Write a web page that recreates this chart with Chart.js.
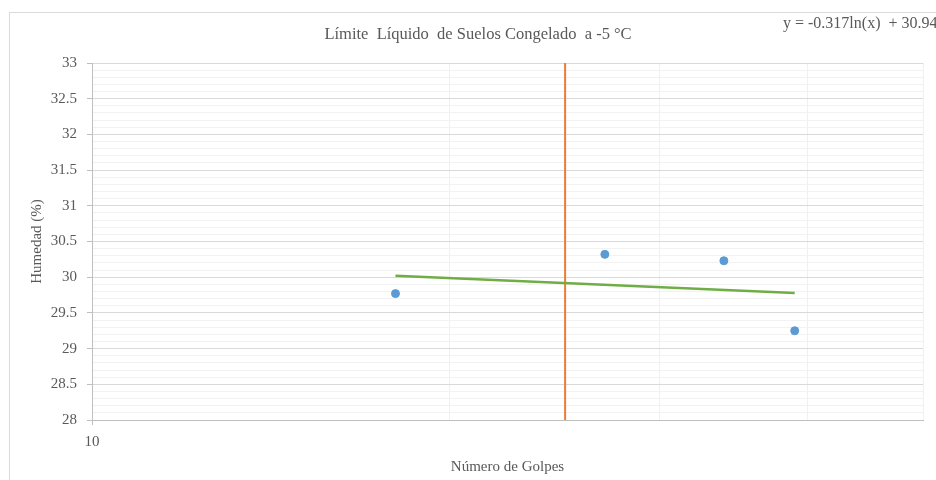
<!DOCTYPE html>
<html>
<head>
<meta charset="utf-8">
<script src="https://cdn.jsdelivr.net/npm/chart.js@4.4.1/dist/chart.umd.min.js"></script>
<style>
  html, body { margin: 0; padding: 0; background: #fff; }
  canvas { display: block; }
</style>
</head>
<body>
<canvas id="chart" width="936" height="480"></canvas>
<script>
// valores
const golpes = [18, 27, 34, 39];
const humedad = [29.77, 30.32, 30.23, 29.25];

// extremos de la línea de tendencia (log)
const trendX = [18, 39];
const trendY = [30.02, 29.78];

// línea vertical de 25 golpes
const limiteX = [25, 25];
const limiteY = [28, 33];

const xTicks = [10, 20, 30, 40, 50];
const xLabels = ['10', '', '', '', ''];
const yMin = 28, yMax = 33;

const titulo = 'Límite  Líquido  de Suelos Congelado  a -5 °C';
const ecuacion = 'y = -0.317ln(x)  + 30.943';

const serif = "'Liberation Serif', 'Times New Roman', serif";
const gris = '#595959';

const decorPlugin = {
    id: 'decorPlugin',
    beforeDraw(chart) {
        const ctx = chart.ctx;
        ctx.save();
        ctx.fillStyle = '#fff';
        ctx.fillRect(0, 0, chart.width, chart.height);
        ctx.strokeStyle = '#d9d9d9';
        ctx.lineWidth = 1;
        ctx.strokeRect(9.5, 12.5, chart.width + 10, chart.height + 10);
        ctx.restore();
    },
    afterDraw(chart) {
        const ctx = chart.ctx;
        ctx.save();
        ctx.fillStyle = gris;
        ctx.textBaseline = 'middle';
        ctx.font = '16.5px ' + serif;
        ctx.textAlign = 'center';
        ctx.fillText(titulo, 478, 35);
        ctx.font = '16px ' + serif;
        ctx.textAlign = 'left';
        ctx.fillText(ecuacion, 783, 24);
        ctx.restore();
    }
};

const isMajor = v => Math.abs(v * 2 - Math.round(v * 2)) < 1e-6;

new Chart(document.getElementById('chart'), {
    type: 'scatter',
    data: {
        datasets: [
            {
                label: 'Humedad',
                data: golpes.map((g, i) => ({x: g, y: humedad[i]})),
                backgroundColor: '#5b9bd5',
                borderColor: '#5b9bd5',
                pointRadius: 4,
                showLine: false
            },
            {
                label: 'Tendencia',
                data: trendX.map((g, i) => ({x: g, y: trendY[i]})),
                borderColor: '#70ad47',
                borderWidth: 2.5,
                pointRadius: 0,
                showLine: true
            },
            {
                label: '25 golpes',
                data: limiteX.map((g, i) => ({x: g, y: limiteY[i]})),
                borderColor: '#ed7d31',
                borderWidth: 2,
                pointRadius: 0,
                showLine: true
            }
        ]
    },
    options: {
        responsive: false,
        animation: false,
        layout: { padding: { left: 10, right: 13, top: 63, bottom: 0 } },
        plugins: {
            legend: { display: false },
            tooltip: { enabled: false }
        },
        scales: {
            x: {
                type: 'logarithmic',
                min: 10,
                max: 50,
                afterBuildTicks(axis) {
                    axis.ticks = xTicks.map(v => ({value: v}));
                },
                afterFit(axis) { axis.height = 60; },
                ticks: {
                    autoSkip: false,
                    maxRotation: 0,
                    padding: 8,
                    color: gris,
                    font: { family: serif, size: 15 },
                    callback: (v) => xLabels[xTicks.indexOf(v)] ?? ''
                },
                grid: {
                    color: '#f0f0f0',
                    tickLength: 5,
                    tickColor: (c) => c.tick && c.tick.value === 10 ? '#bfbfbf' : 'rgba(0,0,0,0)'
                },
                border: { display: true, color: '#bfbfbf' },
                title: {
                    display: true,
                    text: 'Número de Golpes',
                    color: gris,
                    font: { family: serif, size: 15 },
                    padding: { top: 4, bottom: 4 }
                }
            },
            y: {
                min: yMin,
                max: yMax,
                afterBuildTicks(axis) {
                    const t = [];
                    for (let i = 0; i <= (yMax - yMin) * 10; i++) t.push({value: Math.round((yMin + i / 10) * 10) / 10});
                    axis.ticks = t;
                },
                afterFit(axis) { axis.width = 82; },
                ticks: {
                    autoSkip: false,
                    padding: 10,
                    color: gris,
                    font: { family: serif, size: 15 },
                    callback: (v) => isMajor(v) ? String(v) : ''
                },
                grid: {
                    color: (c) => c.tick && isMajor(c.tick.value) ? '#d9d9d9' : '#f2f2f2',
                    tickLength: 5,
                    tickColor: (c) => c.tick && isMajor(c.tick.value) ? '#bfbfbf' : 'rgba(0,0,0,0)'
                },
                border: { display: true, color: '#bfbfbf' },
                title: {
                    display: true,
                    text: 'Humedad (%)',
                    color: gris,
                    font: { family: serif, size: 15 },
                    padding: { top: 18, bottom: 0 }
                }
            }
        }
    },
    plugins: [decorPlugin]
});
</script>
</body>
</html>
